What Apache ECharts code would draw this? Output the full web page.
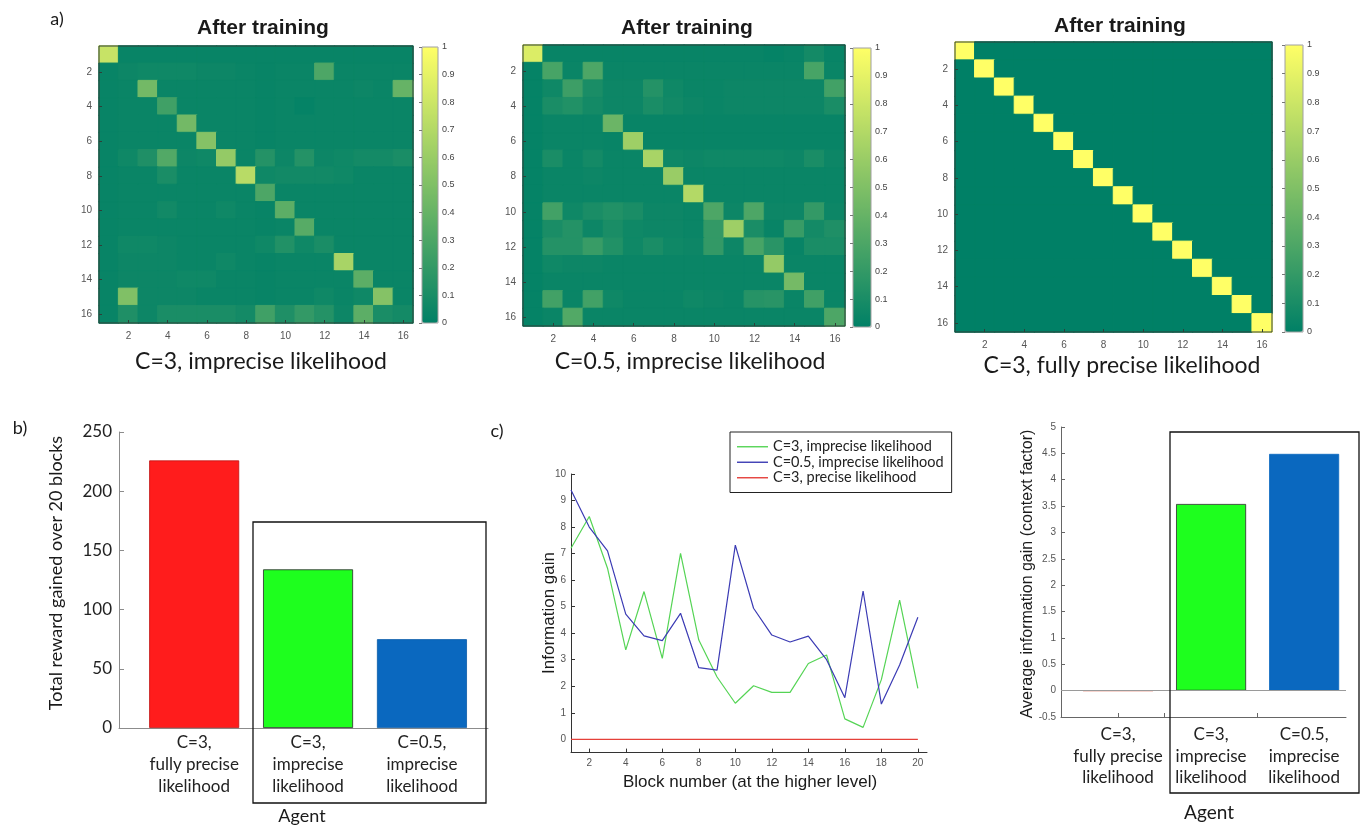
<!DOCTYPE html>
<html><head><meta charset="utf-8">
<script src="https://cdn.jsdelivr.net/npm/echarts@6.0.0/dist/echarts.min.js"></script>
<style>html,body{margin:0;padding:0;background:#fff}#c{width:1362px;height:827px}</style>
</head><body><div id="c"></div>
<script>
// ---------- DATA ----------
const hmTicks = ['1','2','3','4','5','6','7','8','9','10','11','12','13','14','15','16'];

// C=3, imprecise likelihood (rows top->bottom)
const heat1 = [
 [0.78,0.03,0.03,0.03,0.03,0.03,0.03,0.03,0.03,0.03,0.03,0.03,0.03,0.03,0.03,0.03],
 [0.03,0.05,0.06,0.06,0.06,0.05,0.05,0.04,0.03,0.04,0.04,0.30,0.04,0.04,0.04,0.04],
 [0.03,0.04,0.45,0.04,0.04,0.04,0.04,0.04,0.03,0.04,0.04,0.04,0.04,0.05,0.04,0.40],
 [0.03,0.04,0.04,0.25,0.04,0.04,0.04,0.04,0.03,0.04,0.02,0.04,0.04,0.04,0.04,0.04],
 [0.03,0.04,0.04,0.04,0.45,0.04,0.04,0.04,0.03,0.04,0.04,0.04,0.04,0.04,0.04,0.04],
 [0.03,0.04,0.04,0.04,0.04,0.52,0.04,0.04,0.03,0.04,0.04,0.04,0.04,0.04,0.04,0.04],
 [0.03,0.06,0.12,0.32,0.05,0.06,0.58,0.04,0.14,0.05,0.14,0.05,0.06,0.08,0.08,0.10],
 [0.03,0.04,0.04,0.10,0.04,0.04,0.04,0.72,0.06,0.07,0.07,0.07,0.06,0.04,0.04,0.04],
 [0.03,0.04,0.04,0.04,0.04,0.04,0.04,0.04,0.30,0.04,0.04,0.04,0.04,0.04,0.04,0.04],
 [0.03,0.04,0.04,0.07,0.04,0.04,0.06,0.04,0.03,0.36,0.04,0.04,0.04,0.04,0.04,0.04],
 [0.03,0.04,0.04,0.04,0.04,0.04,0.04,0.04,0.03,0.04,0.34,0.04,0.04,0.04,0.04,0.04],
 [0.03,0.06,0.06,0.05,0.04,0.04,0.04,0.04,0.06,0.13,0.06,0.10,0.04,0.04,0.04,0.04],
 [0.03,0.05,0.05,0.05,0.04,0.04,0.06,0.04,0.03,0.04,0.04,0.04,0.66,0.04,0.04,0.04],
 [0.03,0.05,0.05,0.05,0.06,0.06,0.04,0.04,0.03,0.04,0.04,0.04,0.04,0.36,0.04,0.04],
 [0.03,0.50,0.05,0.05,0.05,0.04,0.04,0.04,0.03,0.04,0.04,0.06,0.04,0.06,0.52,0.04],
 [0.03,0.12,0.05,0.10,0.10,0.10,0.10,0.08,0.25,0.12,0.20,0.14,0.05,0.36,0.10,0.08]
];
// C=0.5, imprecise likelihood
const heat2 = [
 [0.86,0.03,0.03,0.03,0.03,0.03,0.03,0.03,0.03,0.03,0.03,0.03,0.02,0.03,0.08,0.03],
 [0.02,0.28,0.04,0.30,0.04,0.04,0.04,0.04,0.04,0.04,0.04,0.04,0.04,0.04,0.28,0.04],
 [0.02,0.06,0.24,0.10,0.05,0.05,0.14,0.06,0.04,0.04,0.05,0.05,0.05,0.05,0.05,0.26],
 [0.02,0.10,0.13,0.08,0.05,0.05,0.10,0.07,0.05,0.04,0.05,0.05,0.05,0.05,0.05,0.10],
 [0.02,0.04,0.04,0.04,0.42,0.03,0.03,0.03,0.03,0.03,0.03,0.03,0.03,0.03,0.03,0.03],
 [0.02,0.04,0.04,0.04,0.03,0.62,0.03,0.03,0.03,0.03,0.03,0.03,0.03,0.03,0.03,0.03],
 [0.02,0.10,0.04,0.08,0.04,0.04,0.66,0.06,0.05,0.06,0.06,0.06,0.06,0.05,0.10,0.05],
 [0.02,0.04,0.04,0.05,0.04,0.04,0.04,0.60,0.04,0.04,0.04,0.04,0.04,0.04,0.04,0.04],
 [0.02,0.04,0.04,0.04,0.04,0.04,0.04,0.04,0.70,0.04,0.04,0.04,0.04,0.04,0.04,0.04],
 [0.02,0.26,0.06,0.10,0.13,0.10,0.05,0.05,0.04,0.30,0.05,0.30,0.05,0.05,0.20,0.05],
 [0.02,0.10,0.14,0.05,0.10,0.06,0.05,0.05,0.04,0.20,0.62,0.10,0.03,0.22,0.08,0.12],
 [0.02,0.14,0.14,0.22,0.13,0.06,0.10,0.06,0.05,0.20,0.05,0.28,0.16,0.03,0.10,0.10],
 [0.02,0.06,0.05,0.05,0.04,0.04,0.04,0.04,0.04,0.04,0.04,0.04,0.58,0.04,0.04,0.04],
 [0.02,0.04,0.04,0.04,0.04,0.04,0.04,0.04,0.04,0.04,0.04,0.04,0.04,0.46,0.04,0.04],
 [0.02,0.26,0.04,0.26,0.06,0.04,0.04,0.04,0.06,0.05,0.04,0.15,0.16,0.04,0.25,0.04],
 [0.02,0.04,0.32,0.04,0.04,0.04,0.04,0.04,0.04,0.04,0.04,0.04,0.04,0.04,0.04,0.30]
];
// C=3, fully precise likelihood
const heat3 = [
 [1,0,0,0,0,0,0,0,0,0,0,0,0,0,0,0],
 [0,1,0,0,0,0,0,0,0,0,0,0,0,0,0,0],
 [0,0,1,0,0,0,0,0,0,0,0,0,0,0,0,0],
 [0,0,0,1,0,0,0,0,0,0,0,0,0,0,0,0],
 [0,0,0,0,1,0,0,0,0,0,0,0,0,0,0,0],
 [0,0,0,0,0,1,0,0,0,0,0,0,0,0,0,0],
 [0,0,0,0,0,0,1,0,0,0,0,0,0,0,0,0],
 [0,0,0,0,0,0,0,1,0,0,0,0,0,0,0,0],
 [0,0,0,0,0,0,0,0,1,0,0,0,0,0,0,0],
 [0,0,0,0,0,0,0,0,0,1,0,0,0,0,0,0],
 [0,0,0,0,0,0,0,0,0,0,1,0,0,0,0,0],
 [0,0,0,0,0,0,0,0,0,0,0,1,0,0,0,0],
 [0,0,0,0,0,0,0,0,0,0,0,0,1,0,0,0],
 [0,0,0,0,0,0,0,0,0,0,0,0,0,1,0,0],
 [0,0,0,0,0,0,0,0,0,0,0,0,0,0,1,0],
 [0,0,0,0,0,0,0,0,0,0,0,0,0,0,0,1]
];

const agentLabels = ['C=3,\nfully precise\nlikelihood', 'C=3,\nimprecise\nlikelihood', 'C=0.5,\nimprecise\nlikelihood'];
const rewardVals = [226, 134, 75];
const avgGainVals = [0, 3.54, 4.49];

const blocks = [1,2,3,4,5,6,7,8,9,10,11,12,13,14,15,16,17,18,19,20];
const blockTicks = [2,4,6,8,10,12,14,16,18,20];
const gainTicks = [0,1,2,3,4,5,6,7,8,9,10];
const seriesNames = ['C=3, imprecise likelihood', 'C=0.5, imprecise likelihood', 'C=3, precise likelihood'];
const gainC3Imprecise = [7.2,8.4,6.45,3.37,5.57,3.05,7.01,3.74,2.35,1.36,2.02,1.77,1.77,2.86,3.18,0.77,0.45,2.25,5.25,1.92];
const gainC05Imprecise = [9.4,8.0,7.1,4.72,3.9,3.72,4.75,2.7,2.61,7.32,4.94,3.93,3.67,3.89,3.0,1.57,5.59,1.33,2.8,4.6];
const gainC3Precise = [0,0,0,0,0,0,0,0,0,0,0,0,0,0,0,0,0,0,0,0];

// ---------- STYLE ----------
const barColors = ['#ff1c1c', '#1eff1e', '#0a68bf'];
const lineColors = ['#55d455', '#3b3bb4', '#e5403a'];
const summer = ['#008066', '#ffff66'];
const ARIAL = 'Liberation Sans, Arial, sans-serif';
const CAL = 'Lato, Noto Sans, sans-serif';

const hm = [
  {l:99, t:46, w:314, h:277, cb:{l:422, t:47, w:16, h:276}},
  {l:523, t:45, w:322, h:281, cb:{l:853, t:48, w:18, h:279}},
  {l:955, t:42, w:317, h:290, cb:{l:1285, t:45, w:18, h:287}}
];
const heats = [heat1, heat2, heat3];

function toCells(m){
  const out=[];
  m.forEach((row,r)=>row.forEach((v,c)=>out.push({value:[c,r,v], itemStyle:{borderColor:echarts.color.lerp(v, summer), borderWidth:1}})));
  return out;
}

const grid=[], xAxis=[], yAxis=[], series=[], visualMap=[];
const evenIdx = (i)=> i%2===1;

hm.forEach((g,k)=>{
  grid.push({left:g.l, top:g.t, width:g.w, height:g.h, show:true, borderColor:'#2f3f38', borderWidth:1, backgroundColor:'transparent', z:3});
  const catAxis = {
    type:'category', gridIndex:k, data:hmTicks, z:5,
    axisLine:{show:false},
    axisTick:{show:true, inside:true, length:3, alignWithLabel:true, interval:evenIdx, lineStyle:{color:'#2f3f38'}},
    axisLabel:{interval:evenIdx, fontSize:10, color:'#555', fontFamily:ARIAL, margin:8},
    splitLine:{show:false}
  };
  xAxis.push(Object.assign({}, catAxis));
  yAxis.push(Object.assign({}, catAxis, {inverse:true, axisLabel:Object.assign({}, catAxis.axisLabel, {margin:7})}));
  series.push({type:'heatmap', xAxisIndex:k, yAxisIndex:k, data:toCells(heats[k]), emphasis:{disabled:true}});
  visualMap.push({type:'continuous', seriesIndex:k, min:0, max:1, show:true, calculable:false, itemWidth:g.cb.w, itemHeight:g.cb.h,
    left:g.cb.l, top:g.cb.t, padding:0, text:null, inRange:{color:summer}, textStyle:{fontSize:0}});
});
// colorbar label grids
hm.forEach((g,k)=>{
  const gi = grid.length;
  grid.push({left:g.cb.l, top:g.cb.t, width:g.cb.w, height:g.cb.h, show:true, borderColor:'#a0a0a0', borderWidth:1, backgroundColor:'transparent', z:6});
  xAxis.push({type:'value', gridIndex:gi, min:0, max:1, show:false});
  yAxis.push({type:'value', gridIndex:gi, min:0, max:1, interval:0.1, position:'right', z:7,
    axisLine:{show:false}, splitLine:{show:false},
    axisTick:{show:true, inside:true, length:3, lineStyle:{color:'#777'}},
    axisLabel:{fontSize:9, color:'#444', fontFamily:ARIAL, margin:4, formatter:(v)=>String(Math.round(v*10)/10)}});
});

// panel b
const gB = grid.length;
grid.push({left:119, top:432, width:369, height:296});
xAxis.push({type:'value', gridIndex:gB, min:0.34, max:3.58,
  axisLine:{show:true, onZero:false, lineStyle:{color:'#8c8c8c', width:1}}, axisTick:{show:false}, splitLine:{show:false},
  axisLabel:{customValues:[1,2,3], formatter:(v)=>agentLabels[Math.round(v)-1], fontFamily:CAL, fontSize:17, lineHeight:22, color:'#222', margin:4}});
yAxis.push({type:'value', gridIndex:gB, min:0, max:250, interval:50,
  axisLine:{show:true, lineStyle:{color:'#8c8c8c'}}, axisTick:{show:true, inside:true, length:5, lineStyle:{color:'#8c8c8c'}},
  splitLine:{show:false}, axisLabel:{fontFamily:CAL, fontSize:17, color:'#222', margin:7}});
series.push({type:'bar', xAxisIndex:gB, yAxisIndex:gB, barWidth:90,
  data:rewardVals.map((v,i)=>({value:[i+1,v], itemStyle:{color:barColors[i], borderColor:['#c01010','#2a2a2a','#0a5aa8'][i], borderWidth:0.8}}))});

// panel c
const gC = grid.length;
grid.push({left:571, top:474, width:356, height:278.6});
xAxis.push({type:'value', gridIndex:gC, min:1, max:20.5,
  axisLine:{show:true, onZero:false, lineStyle:{color:'#333'}}, splitLine:{show:false},
  axisTick:{show:true, inside:true, length:4, customValues:blockTicks, lineStyle:{color:'#333'}},
  axisLabel:{customValues:blockTicks, fontSize:10, color:'#555', fontFamily:ARIAL, margin:6}});
yAxis.push({type:'value', gridIndex:gC, min:-0.5, max:10,
  axisLine:{show:true, onZero:false, lineStyle:{color:'#333'}}, splitLine:{show:false},
  axisTick:{show:true, inside:true, length:4, customValues:gainTicks, lineStyle:{color:'#333'}},
  axisLabel:{customValues:gainTicks, fontSize:10, color:'#555', fontFamily:ARIAL, margin:5}});
[gainC3Imprecise, gainC05Imprecise, gainC3Precise].forEach((arr,i)=>{
  series.push({type:'line', name:seriesNames[i], xAxisIndex:gC, yAxisIndex:gC, symbol:'none', showSymbol:false, smooth:false,
    lineStyle:{color:lineColors[i], width:1.2}, itemStyle:{color:lineColors[i]},
    data:blocks.map((b,j)=>[b, arr[j]])});
});

// right panel
const gR = grid.length;
grid.push({left:1061, top:427, width:285, height:290});
xAxis.push({type:'value', gridIndex:gR, min:0.387, max:3.45,
  axisLine:{show:true, onZero:false, lineStyle:{color:'#666'}}, splitLine:{show:false},
  axisTick:{show:true, inside:true, length:4, customValues:[1,1.5,2.5], lineStyle:{color:'#666'}},
  axisLabel:{customValues:[1,2,3], formatter:(v)=>agentLabels[Math.round(v)-1], fontFamily:CAL, fontSize:17, lineHeight:21.5, color:'#222', margin:7}});
yAxis.push({type:'value', gridIndex:gR, min:-0.5, max:5, interval:0.5,
  axisLine:{show:true, lineStyle:{color:'#666'}}, splitLine:{show:false},
  axisTick:{show:true, inside:true, length:4, lineStyle:{color:'#666'}},
  axisLabel:{fontSize:10, color:'#555', fontFamily:ARIAL, margin:5}});
series.push({type:'line', xAxisIndex:gR, yAxisIndex:gR, data:[], z:1,
  markLine:{silent:true, symbol:'none', label:{show:false}, lineStyle:{color:'#9a9a9a', width:1, type:'solid'}, data:[{yAxis:0}]}});
series.push({type:'bar', xAxisIndex:gR, yAxisIndex:gR, barWidth:70, z:3,
  data:avgGainVals.map((v,i)=>({value:[i+1,v], itemStyle:{color:barColors[i], borderColor:['#e0533e','#2a2a2a','#0a68bf'][i], borderWidth:i===0?1.4:0.8}}))});

// ---------- TEXT / DECOR ----------
function txt(x,y,text,font,opts){ return Object.assign({type:'text', x:x, y:y, z:100, style:{text:text, font:font, fill:'#1a1a1a', align:'center', verticalAlign:'middle'}}, opts||{}); }
const graphic = [
  txt(57,19,'a)','18px '+CAL),
  txt(20,428,'b)','18px '+CAL),
  txt(497,431,'c)','18px '+CAL),
  txt(263,28,'After training','bold 21px '+ARIAL),
  txt(687,28,'After training','bold 21px '+ARIAL),
  txt(1120,26,'After training','bold 21px '+ARIAL),
  txt(261,362,'C=3, imprecise likelihood','23px '+CAL),
  txt(690,362,'C=0.5, imprecise likelihood','23px '+CAL),
  txt(1122,366,'C=3, fully precise likelihood','23px '+CAL),
  txt(56,573,'Total reward gained over 20 blocks','18px '+CAL,{rotation:Math.PI/2}),
  txt(302,816,'Agent','18px '+CAL),
  txt(549,613,'Information gain','17px '+ARIAL,{rotation:Math.PI/2}),
  txt(750,782,'Block number (at the higher level)','17px '+ARIAL),
  txt(1028,574,'Average information gain (context factor)','16px '+ARIAL,{rotation:Math.PI/2}),
  txt(1209,813,'Agent','19px '+CAL),
  {type:'rect', z:100, shape:{x:253, y:522, width:233, height:281}, style:{fill:'none', stroke:'#111', lineWidth:1.3}},
  {type:'rect', z:100, shape:{x:1170, y:432, width:189, height:361}, style:{fill:'none', stroke:'#111', lineWidth:1.3}}
];

const option = {
  backgroundColor:'#fff',
  animation:false,
  grid, xAxis, yAxis, series, visualMap, graphic,
  legend:{data:seriesNames, left:730, top:432, orient:'vertical', borderColor:'#222', borderWidth:1,
    padding:[7,8,7,7], icon:'rect', itemWidth:31, itemHeight:1.4, itemGap:0,
    textStyle:{fontFamily:CAL, fontSize:14.5, lineHeight:15.5, color:'#222'}}
};
const chart = echarts.init(document.getElementById('c'));
chart.setOption(option);
</script></body></html>
